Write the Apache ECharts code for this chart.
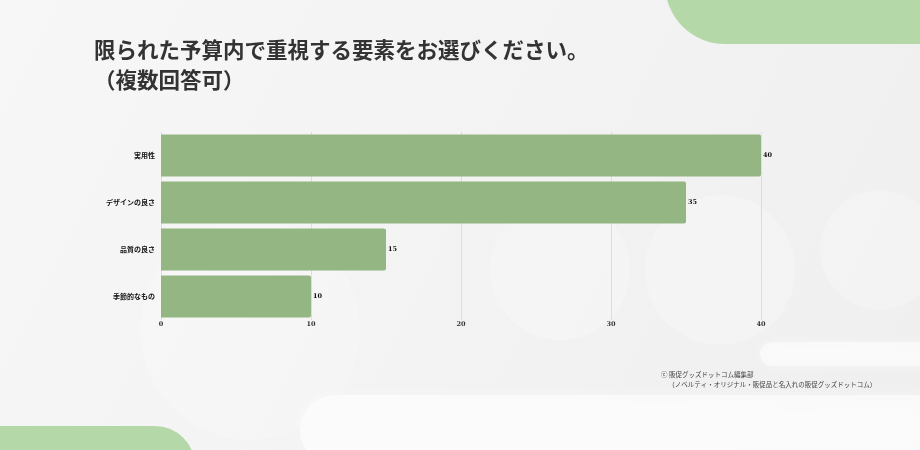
<!DOCTYPE html>
<html><head><meta charset="utf-8">
<script src="https://cdn.jsdelivr.net/npm/echarts@6/dist/echarts.min.js"></script>
<style>html,body{margin:0;padding:0;background:#f4f4f4}#c{width:920px;height:450px}</style>
</head><body><div id="c"></div>
<script>
const categories = ['実用性', 'デザインの良さ', '品質の良さ', '季節的なもの'];
const values = [40, 35, 15, 10];
const xTicks = [0, 10, 20, 30, 40];
const titleLines = ['限られた予算内で重視する要素をお選びください。', '（複数回答可）'];
const footerLines = ['ⓒ 販促グッズドットコム編集部', '（ノベルティ・オリジナル・販促品と名入れの販促グッズドットコム）'];

const chart = echarts.init(document.getElementById('c'), null, {renderer: 'canvas'});
const green = '#b5d8a8';
const blob = 'rgba(255,255,255,0.22)';
chart.setOption({
  backgroundColor: {type: 'linear', x: 0, y: 0, x2: 1, y2: 1, colorStops: [{offset: 0, color: '#f7f7f7'}, {offset: 1, color: '#efefef'}]},
  animation: false,
  graphic: [
    {type: 'circle', shape: {cx: 250, cy: 330, r: 110}, style: {fill: blob, shadowBlur: 40, shadowColor: blob}, z: -10},
    {type: 'circle', shape: {cx: 560, cy: 270, r: 70}, style: {fill: blob, shadowBlur: 40, shadowColor: blob}, z: -10},
    {type: 'circle', shape: {cx: 720, cy: 270, r: 75}, style: {fill: blob, shadowBlur: 40, shadowColor: blob}, z: -10},
    {type: 'circle', shape: {cx: 880, cy: 250, r: 60}, style: {fill: blob, shadowBlur: 30, shadowColor: blob}, z: -10},
    {type: 'rect', shape: {x: 300, y: 395, width: 650, height: 70, r: 35}, style: {fill: 'rgba(255,255,255,0.55)', shadowBlur: 20, shadowColor: 'rgba(255,255,255,0.6)'}, z: -10},
    {type: 'rect', shape: {x: 760, y: 342, width: 200, height: 24, r: 12}, style: {fill: 'rgba(255,255,255,0.5)', shadowBlur: 15, shadowColor: 'rgba(255,255,255,0.6)'}, z: -10},
    {type: 'rect', shape: {x: 665, y: -60, width: 320, height: 104, r: [0, 0, 0, 60]}, style: {fill: green}, z: 5},
    {type: 'rect', shape: {x: -60, y: 426, width: 255, height: 80, r: [0, 40, 0, 0]}, style: {fill: green}, z: 5},
    {type: 'text', left: 94, top: 35, style: {text: titleLines.join('\n'), font: 'bold 21.5px "Noto Sans CJK JP"', lineHeight: 30, fill: '#333333'}, z: 10},
    {type: 'text', left: 661, top: 370, style: {text: footerLines[0] + '\n     ' + footerLines[1], font: '6.5px "Noto Sans CJK JP"', lineHeight: 10, fill: '#444444'}, z: 10}
  ],
  grid: {left: 161, right: 159, top: 132, bottom: 130, containLabel: false},
  xAxis: {
    type: 'value', min: 0, max: 40, interval: 10,
    axisLine: {show: false}, axisTick: {show: false},
    splitLine: {show: true, lineStyle: {color: '#dddddd', width: 1}},
    axisLabel: {color: '#333', fontSize: 6.5, fontWeight: 'bold', fontFamily: '"DejaVu Serif", serif', margin: 1,
      formatter: v => xTicks.includes(v) ? String(v) : ''}
  },
  yAxis: {
    type: 'category', data: categories, inverse: true,
    axisLine: {show: false}, axisTick: {show: false},
    axisLabel: {color: '#111', fontSize: 7, fontWeight: 'bold', fontFamily: '"Noto Sans CJK JP"', margin: 6}
  },
  series: [{
    type: 'bar', data: values, barCategoryGap: '10.6%',
    itemStyle: {color: '#93b683', borderRadius: [0, 2, 2, 0]},
    label: {show: true, position: 'right', distance: 2, color: '#111', fontSize: 6.5, fontWeight: 'bold', fontFamily: '"DejaVu Serif", serif'}
  }]
});
</script></body></html>
